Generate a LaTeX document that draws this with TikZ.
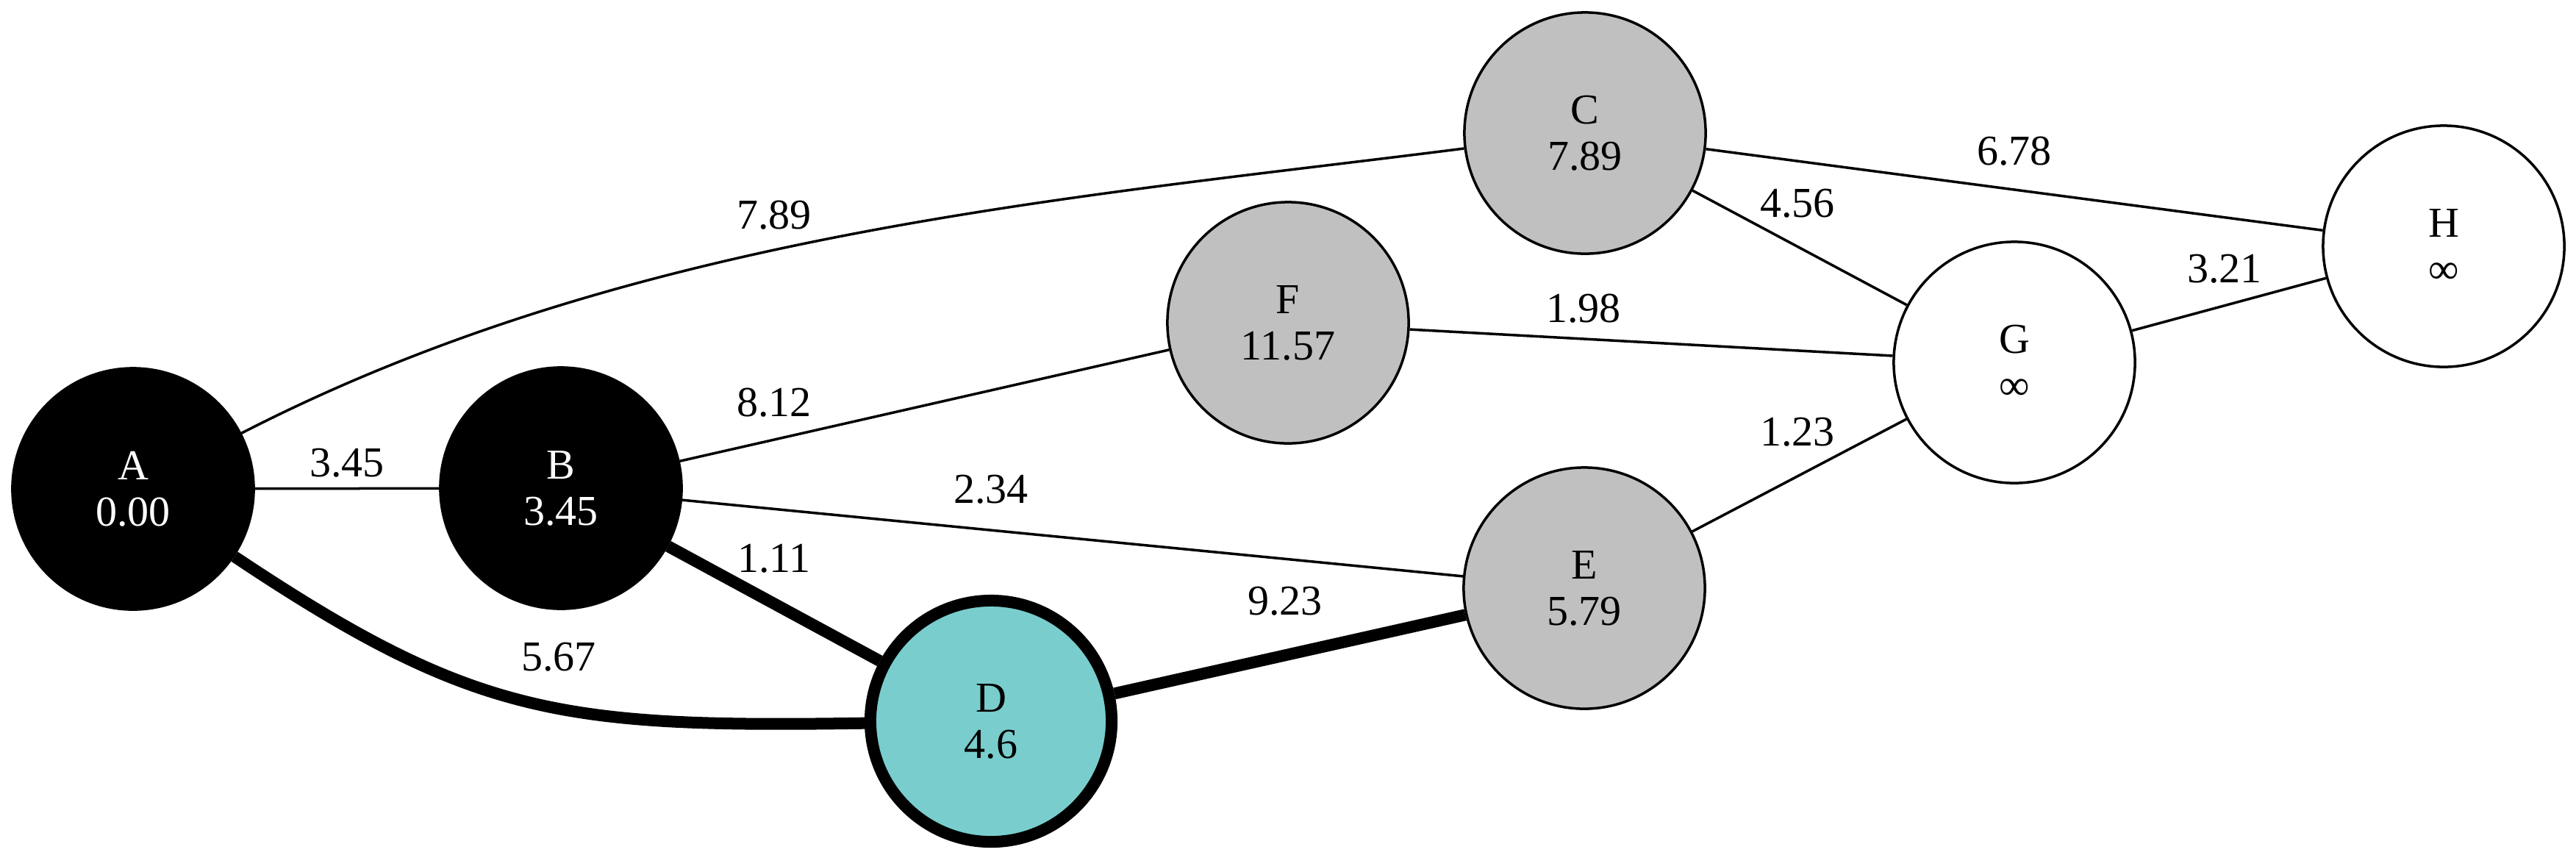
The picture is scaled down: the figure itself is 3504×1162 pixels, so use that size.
\documentclass[tikz,border=0pt]{standalone}
\usepackage{fontspec}
\setmainfont{Liberation Serif}
\usetikzlibrary{backgrounds}
\definecolor{nodegray}{HTML}{C0C0C0}
\definecolor{dteal}{HTML}{79CDCD}
\begin{document}
\begin{tikzpicture}[x=0.01cm,y=-0.01cm,
  vtx/.style={circle, draw=black, line width=0.035cm, minimum size=3.28cm, inner sep=0pt, align=center, font=\fontsize{16.5pt}{17.9pt}\selectfont},
  donev/.style={vtx, fill=black, text=white},
  seenv/.style={vtx, fill=nodegray},
  unseenv/.style={vtx, fill=white},
  curv/.style={vtx, fill=dteal, line width=0.16cm},
  wedge/.style={line width=0.035cm},
  tedge/.style={line width=0.16cm},
  wt/.style={font=\fontsize{16.5pt}{17.9pt}\selectfont, inner sep=0pt}]
\useasboundingbox (0,0) rectangle (3504,1162);
\node[donev] (A) at (181,665) {A\\0.00};
\node[donev] (B) at (763,664) {B\\3.45};
\node[seenv] (C) at (2156,181) {C\\7.89};
\node[curv] (D) at (1348,981) {D\\4.6};
\node[seenv] (E) at (2155,800) {E\\5.79};
\node[seenv] (F) at (1752,439) {F\\11.57};
\node[unseenv] (G) at (2740,493) {G\\∞};
\node[unseenv] (H) at (3324,335) {H\\∞};
\begin{scope}[on background layer]
\draw[wedge] (A) -- (B);
\draw[wedge] (A) .. controls (862,315) and (1457,270) .. (C);
\draw[tedge] (A) .. controls (644,974) and (763,990) .. (D);
\draw[wedge] (B) -- (F);
\draw[wedge] (B) -- (E);
\draw[tedge] (B) -- (D);
\draw[tedge] (D) -- (E);
\draw[wedge] (C) -- (H);
\draw[wedge] (C) -- (G);
\draw[wedge] (F) -- (G);
\draw[wedge] (E) -- (G);
\draw[wedge] (G) -- (H);
\end{scope}
\node[wt] (w1) at (472,630) {3.45};
\node[wt] (w2) at (1053,293) {7.89};
\node[wt] (w3) at (1053,548) {8.12};
\node[wt] (w4) at (1348,666) {2.34};
\node[wt] (w5) at (1053,760) {1.11};
\node[wt] (w6) at (760,894) {5.67};
\node[wt] (w7) at (1748,818) {9.23};
\node[wt] (w8) at (2154,420) {1.98};
\node[wt] (w9) at (2445,277) {4.56};
\node[wt] (w10) at (2740,206) {6.78};
\node[wt] (w11) at (2445,588) {1.23};
\node[wt] (w12) at (3026,366) {3.21};
\end{tikzpicture}
\end{document}
